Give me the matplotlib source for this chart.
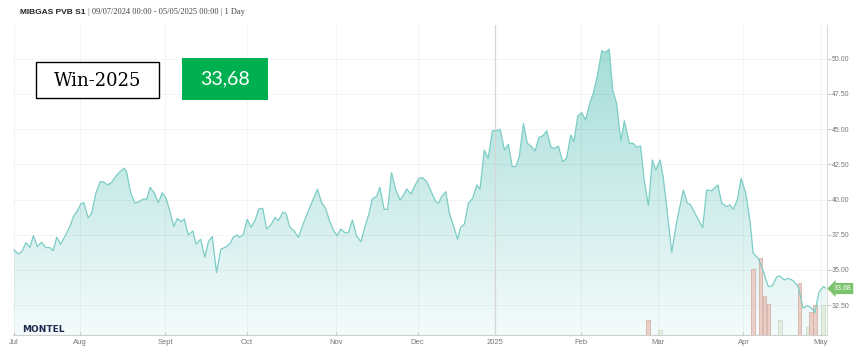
import numpy as np
import matplotlib
matplotlib.use("Agg")
import matplotlib.pyplot as plt
from matplotlib.colors import LinearSegmentedColormap
from matplotlib.patches import Rectangle

# trading-day index since 09/07/2024 and daily settlement (EUR/MWh)
days = [0, 1.1, 2.0, 3.1, 4.1, 5.0, 6.0, 7.1, 8.2, 9.3, 10.1, 11.0, 12.0, 13.1, 14.4,
        15.3, 16.2, 17.2, 18.0, 19.1, 20.0, 21.1, 22.2, 23.0, 24.1, 25.2, 26.0, 27.3,
        28.4, 29.0, 30.1, 31.2, 32.5, 33.3, 34.2, 35.1, 36.1, 37.2, 38.2, 39.2, 40.2,
        41.2, 42.1, 43.0, 43.9, 44.9, 46.1, 46.9, 48.1, 49.2, 50.1, 51.1, 52.2, 53.3,
        54.8, 55.7, 56.5, 57.4, 58.2, 59.1, 60.1, 61.1, 62.1, 63.1, 64.1, 65.1, 66.2,
        67.3, 68.1, 69.3, 70.1, 71.1, 72.2, 73.3, 74.6, 76.3, 78.2, 79.3, 80.3, 81.4,
        82.3, 83.3, 84.2, 85.3, 86.2, 87.2, 88.3, 89.4, 90.5, 91.5, 92.3, 93.5, 94.3,
        95.4, 96.3, 97.3, 98.4, 99.5, 100.3, 101.2, 102.3, 103.4, 104.4, 105.2, 106.4,
        107.7, 108.7, 109.4, 110.2, 111.3, 112.2, 113.2, 114.3, 115.1, 116.1, 117.1,
        118.2, 119.3, 120.1, 121.2, 122.2, 123.3, 124.4, 125.3, 126.4, 127.4, 128.4,
        129.3, 130.2, 131.3, 132.3, 133.2, 134.3, 135.3, 136.3, 137.3, 138.4, 139.4,
        140.3, 141.4, 142.4, 143.5, 144.3, 145.3, 146.3, 147.3, 148.5, 149.3, 150.3,
        151.5, 152.3, 153.4, 154.3, 155.3, 156.4, 157.3, 158.6, 159.6, 160.5, 161.5,
        162.4, 163.5, 164.5, 165.4, 166.5, 167.3, 168.4, 169.5, 170.8, 172.5, 173.5,
        174.4, 175.8, 177.5, 178.5, 179.8, 181.4, 182.4, 183.7, 184.5, 185.4, 186.4,
        187.4, 188.6, 189.7, 190.5, 191.8, 193.0, 194.4, 195.4, 196.6, 197.4, 198.5,
        199.6, 200.8, 202.1, 203.4, 204.5, 205.6, 206.4, 207.5, 208.6, 209.4]
price = [36.42, 36.14, 36.30, 36.94, 36.60, 37.44, 36.66, 36.97, 36.60, 36.58, 36.37,
         37.32, 36.83, 37.37, 38.08, 38.79, 39.14, 39.69, 39.78, 38.71, 39.02, 40.45,
         41.27, 41.27, 41.04, 41.23, 41.58, 41.98, 42.22, 41.98, 40.45, 39.74, 39.90,
         40.04, 40.02, 40.87, 40.49, 39.78, 40.49, 40.09, 39.14, 38.08, 38.67, 38.43,
         38.62, 37.49, 37.77, 36.83, 37.18, 35.90, 37.01, 37.37, 34.81, 36.47, 36.66,
         36.89, 37.32, 37.49, 37.32, 37.53, 38.60, 38.03, 38.50, 39.33, 39.38, 37.91,
         38.20, 38.74, 38.50, 39.10, 39.02, 38.03, 37.77, 37.32, 38.32, 39.50, 40.73,
         39.78, 39.38, 38.43, 37.84, 37.44, 37.91, 37.65, 37.65, 38.55, 37.41, 37.01,
         38.13, 39.02, 40.02, 40.26, 40.87, 39.31, 39.31, 41.91, 40.68, 39.97, 40.28,
         40.75, 40.40, 41.04, 41.51, 41.56, 41.27, 40.45, 39.85, 39.74, 40.21, 40.56,
         39.02, 38.20, 37.18, 38.03, 38.27, 39.74, 40.09, 41.04, 40.73, 43.52, 42.93,
         44.89, 44.89, 44.99, 43.52, 43.93, 42.34, 42.34, 43.00, 45.41, 43.99, 43.81,
         43.45, 44.42, 44.52, 44.89, 43.71, 43.64, 43.81, 42.69, 42.93, 44.59, 44.11,
         45.94, 46.17, 45.65, 46.95, 47.55, 48.73, 50.58, 50.44, 50.68, 47.78, 46.84,
         44.18, 45.60, 43.99, 43.99, 43.71, 43.81, 41.39, 39.57, 42.81, 42.10, 42.81,
         41.63, 39.02, 36.26, 38.43, 40.68, 39.78, 39.62, 38.86, 38.00, 40.68, 40.63,
         41.04, 39.74, 39.50, 39.62, 39.31, 39.97, 41.51, 40.45, 38.43, 36.19, 35.83,
         35.00, 33.82, 33.86, 34.52, 34.57, 34.29, 34.41, 34.24, 33.82, 32.28, 32.47,
         32.28, 31.97, 33.46, 33.82, 33.68]

# volume bars (relative size) and side
bar_days = [163, 166, 190, 192, 193, 194, 197, 202, 204, 205, 206, 208]
bar_vals = [15, 5, 66, 77, 39, 31, 15, 52, 8, 23, 30, 30]
bar_side = ["r", "g", "r", "r", "r", "r", "g", "r", "g", "r", "r", "g"]

month_pos = [0, 17, 39, 60, 83, 104, 124, 146, 166, 188, 208]
month_lbl = ["Jul", "Aug", "Sept", "Oct", "Nov", "Dec", "2025", "Feb", "Mar", "Apr", "May"]
y_ticks = [32.5, 35, 37.5, 40, 42.5, 45, 47.5, 50]

last_price = 33.68
contract = "Win-2025"
contract_price = "33,68"

W, H = 856, 360
fig = plt.figure(figsize=(W / 100, H / 100), dpi=100)
ax = fig.add_axes([13 / W, 25 / H, 813.5 / W, 310 / H])
ax2 = ax.twinx()
xmin, xmax, ymin, ymax = -0.26, 209.4, 30.38, 52.4

# gradient fill under the line
fill = ax.fill_between(days, price, ymin, color="none", lw=0)
grad = np.linspace(0, 1, 256).reshape(-1, 1)
cmap = LinearSegmentedColormap.from_list("teal", ["#f4fbfb", "#9fdbd5"])
im = ax.imshow(grad, extent=[xmin, xmax, ymin, ymax], origin="lower", aspect="auto",
               cmap=cmap, zorder=1)
im.set_clip_path(fill.get_paths()[0], transform=ax.transData)

ax.set_xlim(xmin, xmax)
ax.set_ylim(ymin, ymax)
ax.grid(True, color="k", alpha=0.05, lw=0.6)
ax.set_axisbelow(False)
ax.axvline(month_pos[6], color="#d6d6d6", lw=0.9, zorder=3)

ax.yaxis.tick_right()
ax.set_yticks(y_ticks, [f"{v:.2f}" for v in y_ticks])
ax.set_xticks(month_pos, month_lbl)
ax.tick_params(axis="y", direction="out", length=3, color="#cccccc", labelsize=5,
               labelcolor="#777777", pad=1)
ax.tick_params(axis="x", direction="in", length=2, color="#cccccc", labelsize=5.5,
               labelcolor="#777777", pad=3)
for lab in ax.get_xticklabels() + ax.get_yticklabels():
    lab.set_family("Liberation Sans")
for s in ["left", "top"]:
    ax.spines[s].set_visible(False)
ax.spines["bottom"].set_color("#cfcfcf")
ax.spines["right"].set_color("#dcdcdc")

# bars on hidden twin axis, line drawn on top of them
ax2.set_zorder(ax.get_zorder() + 1)
ax2.patch.set_visible(False)
ax2.set_axis_off()
for d, v, s in zip(bar_days, bar_vals, bar_side):
    if s == "r":
        ax2.bar(d, v, width=0.9, align="edge", color="#eacfc8", edgecolor="#d3a79c", lw=0.5)
    else:
        ax2.bar(d, v, width=0.9, align="edge", color="#e5ede0", edgecolor="#c8d6c2", lw=0.5)
ax2.plot(days, price, color="#7ccdc6", lw=0.9, transform=ax.transData)
ax2.set_xlim(xmin, xmax)
ax2.set_ylim(0, 310)

# last price tag on the price axis
ax.annotate(f"{last_price:.2f}", xy=(1, last_price), xycoords=("axes fraction", "data"),
            xytext=(5, 0), textcoords="offset points", ha="left", va="center",
            fontsize=5, color="white", family="Liberation Sans", zorder=5,
            bbox=dict(boxstyle="larrow,pad=0.3", fc="#7cc36e", ec="none"))

# header
t1 = fig.text(20 / W, 1 - 12 / H, "MIBGAS PVB S1", fontsize=6, fontweight="bold",
              family="Liberation Sans", color="#222222", va="center")
ax.annotate(" | 09/07/2024 00:00 - 05/05/2025 00:00 | 1 Day", xy=(1, 0.5), xycoords=t1,
            va="center", ha="left", fontsize=6, family="Liberation Serif",
            color="#444444", annotation_clip=False)

fig.add_artist(Rectangle((36 / W, 1 - 98.3 / H), 123.3 / W, 36.6 / H,
                         transform=fig.transFigure, fc="white", ec="black", lw=1))
fig.text(98 / W, 1 - 81 / H, contract, fontsize=13, family="DejaVu Serif",
         color="black", ha="center", va="center")
fig.add_artist(Rectangle((182 / W, 1 - 100 / H), 86 / W, 42 / H,
                         transform=fig.transFigure, fc="#00b050", ec="none"))
fig.text(225 / W, 1 - 79 / H, contract_price, fontsize=14, family="Lato",
         color="white", ha="center", va="center")

fig.text(22 / W, 1 - 330 / H, "MONTEL", fontsize=6.5, fontweight="bold",
         family="DejaVu Sans", color="#1d2a4d", va="center")

fig.savefig("out.png", dpi=100)
